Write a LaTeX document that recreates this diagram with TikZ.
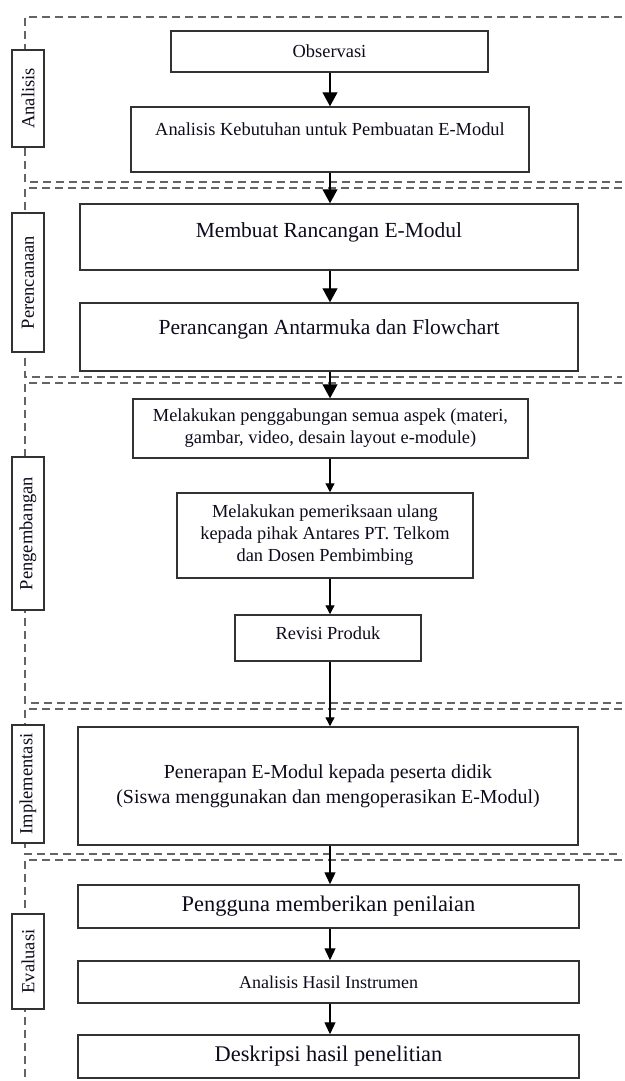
\documentclass[tikz,border=0pt]{standalone}
\usepackage{fontspec}
\setmainfont{Liberation Serif}
\usetikzlibrary{arrows.meta}
\definecolor{boxc}{RGB}{50,50,50}
\definecolor{dashc}{RGB}{100,100,100}
\definecolor{txtc}{RGB}{12,12,28}
\begin{document}
\begin{tikzpicture}[x=1pt,y=-1pt,
  box/.style={draw=boxc, line width=1.5pt, fill=white, inner sep=0pt, text=txtc, align=center},
  lab/.style={draw=boxc, line width=1.5pt, fill=white, inner sep=0pt, rotate=90, minimum height=32pt, text=txtc, font=\fontsize{18.5}{22}\selectfont},
  txt/.style={inner sep=0pt, text=txtc, align=center},
  small/.style={font=\fontsize{18.4}{22}\selectfont},
  large/.style={font=\fontsize{21.5}{26}\selectfont},
  sect/.style={draw=dashc, line width=1.6pt, dash pattern=on 8pt off 5pt},
  bigarr/.style={draw=black, line width=1.3pt, -{Triangle[length=14pt,width=15pt]}},
  midarr/.style={draw=black, line width=1.3pt, -{Triangle[length=12pt,width=11pt]}},
  smallarr/.style={draw=black, line width=1.3pt, -{Triangle[length=9pt,width=9pt]}}]
\useasboundingbox (0,0) rectangle (624,1081);

% section frames
\draw[sect] (622,17) -- (25,17) -- (25,182) -- (622,182);
\draw[sect] (622,188) -- (25,188) -- (25,377) -- (622,377);
\draw[sect] (622,383) -- (25,383) -- (25,703) -- (622,703);
\draw[sect] (622,709) -- (25,709) -- (25,854) -- (622,854);
\draw[sect] (622,860) -- (25,860) -- (25,1081);

% section labels
\node[lab, minimum width=97pt] (lan) at (28,98.5) {Analisis};
\node[lab, minimum width=139pt] (lpr) at (28,282.5) {Perencanaan};
\node[lab, minimum width=153pt] (lpg) at (28,533.5) {Pengembangan};
\node[lab, minimum width=118pt] (lim) at (28,784) {Implementasi};
\node[lab, minimum width=95pt] (lev) at (28,961.5) {Evaluasi};

\coordinate (ax) at (330,0);

% boxes
\node[box, small, minimum width=317pt, minimum height=41pt] (obs) at (329.5,51.5) {Observasi};
\node[box, minimum width=398pt, minimum height=65pt] (akb) at (330,139.5) {};
\node[txt, small] (akbt) at (330,129) {Analisis Kebutuhan untuk Pembuatan E-Modul};
\node[box, minimum width=498pt, minimum height=66pt] (mra) at (329,237) {};
\node[txt, large] (mrat) at (329,232) {Membuat Rancangan E-Modul};
\node[box, minimum width=498pt, minimum height=68pt] (pra) at (329,337) {};
\node[txt, large] (prat) at (329,329) {Perancangan Antarmuka dan Flowchart};
\node[box, small, minimum width=395pt, minimum height=59pt] (pgb) at (330.5,428.5) {Melakukan penggabungan semua aspek (materi,\\gambar, video, desain layout e-module)};
\node[box, small, minimum width=296pt, minimum height=85pt] (pem) at (325,535.5) {Melakukan pemeriksaan ulang\\kepada pihak Antares PT. Telkom\\dan Dosen Pembimbing};
\node[box, minimum width=186pt, minimum height=46pt] (rev) at (328,638) {};
\node[txt, small] (revt) at (328,633) {Revisi Produk};
\node[box, font=\fontsize{19.9}{25}\selectfont, minimum width=500pt, minimum height=118pt] (pen) at (328,786) {Penerapan E-Modul kepada peserta didik\\(Siswa menggunakan dan mengoperasikan E-Modul)};
\node[box, font=\fontsize{22.4}{26}\selectfont, minimum width=501pt, minimum height=43pt] (pgn) at (328.5,906.5) {Pengguna memberikan penilaian};
\node[box, font=\fontsize{18}{22}\selectfont, minimum width=501pt, minimum height=42pt] (ahi) at (328.5,982) {Analisis Hasil Instrumen};
\node[box, font=\fontsize{22.4}{26}\selectfont, minimum width=501pt, minimum height=43pt] (des) at (328.5,1056.5) {Deskripsi hasil penelitian};

% arrows
\draw[bigarr] (obs.south -| ax) -- (akb.north -| ax);
\draw[bigarr] (akb.south -| ax) -- (mra.north -| ax);
\draw[bigarr] (mra.south -| ax) -- (pra.north -| ax);
\draw[bigarr] (pra.south -| ax) -- (pgb.north -| ax);
\draw[smallarr] (pgb.south -| ax) -- (pem.north -| ax);
\draw[smallarr] (pem.south -| ax) -- (rev.north -| ax);
\draw[smallarr] (rev.south -| ax) -- (pen.north -| ax);
\draw[midarr] (pen.south -| ax) -- (pgn.north -| ax);
\draw[midarr] (pgn.south -| ax) -- (ahi.north -| ax);
\draw[midarr] (ahi.south -| ax) -- (des.north -| ax);
\end{tikzpicture}
\end{document}
